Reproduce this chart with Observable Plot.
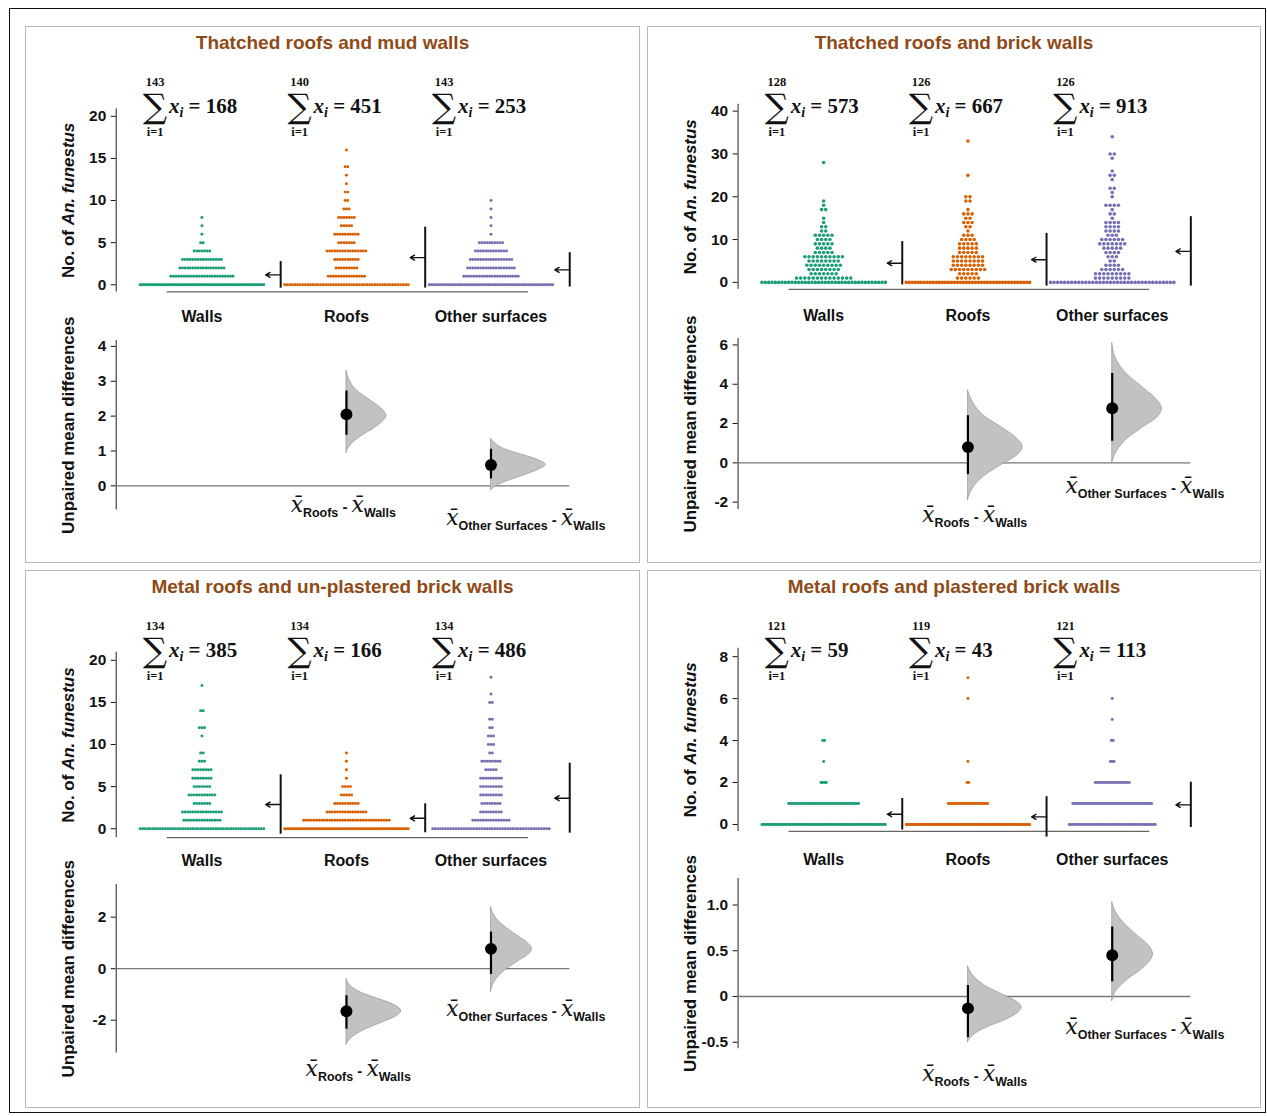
<!DOCTYPE html>
<html><head><meta charset="utf-8">
<script src="https://cdn.jsdelivr.net/npm/d3@7"></script>
<script src="https://cdn.jsdelivr.net/npm/@observablehq/plot@0.6"></script>
<style>
body{margin:0;background:#fff;width:1267px;height:1116px;position:relative;overflow:hidden;font-family:"Liberation Sans",Arial,sans-serif}
#frame{position:absolute;left:9px;top:8px;width:1257px;height:1105px;border:1.5px solid #111;box-sizing:border-box}
.panel{position:absolute;border:1px solid #b8b8b8;box-sizing:border-box;background:#fff}
.title{position:absolute;left:0;right:0;text-align:center;color:#8f4a17;font-weight:bold;font-size:19px;top:6px;line-height:20px}
.panel svg{position:absolute;left:0}
.panel svg g[aria-label^="y-axis"]{font-size:15.5px !important;font-weight:bold !important}
.panel svg g[aria-label^="y-axis"] text{font-size:15.5px !important}
</style></head><body>
<div id="frame"></div>
<script>
// ---------------- DATA ----------------
const groups = ["Walls", "Roofs", "Other surfaces"];
const contrasts = ["Roofs", "Other Surfaces"];
const titles = ["Thatched roofs and mud walls", "Thatched roofs and brick walls",
                "Metal roofs and un-plastered brick walls", "Metal roofs and plastered brick walls"];

// frequency tables: [number of An. funestus, number of collections]
const tlWalls = [[0,72],[1,25],[2,18],[3,16],[4,7],[5,2],[6,1],[7,1],[8,1]];
const tlRoofs = [[0,49],[1,15],[2,9],[3,10],[4,16],[5,7],[6,10],[7,5],[8,7],[9,3],[10,2],[11,2],[12,1],[13,1],[14,2],[16,1]];
const tlOther = [[0,57],[1,22],[2,19],[3,17],[4,13],[5,10],[6,1],[7,1],[8,1],[9,1],[10,1]];
const trWalls = [[0,38],[1,14],[2,7],[3,8],[4,9],[5,8],[6,10],[7,5],[8,4],[9,5],[10,4],[11,5],[12,2],[13,2],[14,1],[15,1],[17,2],[18,1],[19,1],[28,1]];
const trRoofs = [[0,42],[1,6],[2,5],[3,9],[4,8],[5,8],[6,8],[7,5],[8,5],[9,5],[10,4],[11,3],[12,1],[13,2],[14,3],[15,2],[16,3],[17,1],[19,2],[20,2],[25,1],[33,1]];
const trOther = [[0,36],[1,9],[2,9],[3,6],[4,4],[5,2],[6,3],[7,4],[8,5],[9,7],[10,6],[11,3],[12,4],[13,4],[14,4],[15,1],[16,2],[17,1],[18,4],[20,1],[21,1],[22,2],[24,1],[25,2],[26,1],[29,1],[30,2],[34,1]];
const blWalls = [[0,50],[1,15],[2,16],[3,7],[4,11],[5,7],[6,8],[7,8],[8,3],[9,2],[11,1],[12,3],[14,2],[17,1]];
const blRoofs = [[0,61],[1,34],[2,16],[3,10],[4,5],[5,4],[6,1],[7,1],[8,1],[9,1]];
const blOther = [[0,46],[1,15],[2,9],[3,8],[4,9],[5,9],[6,9],[7,5],[8,8],[9,2],[10,3],[11,3],[12,2],[13,2],[15,2],[16,1],[18,1]];
const brWalls = [[0,74],[1,40],[2,4],[3,1],[4,2]];
const brRoofs = [[0,91],[1,23],[2,2],[3,1],[6,1],[7,1]];
const brOther = [[0,49],[1,45],[2,20],[3,3],[4,2],[5,1],[6,1]];

// sum annotations (upper limit n, total)
const tlN = [143,140,143], tlSum = [168,451,253];
const trN = [128,126,126], trSum = [573,667,913];
const blN = [134,134,134], blSum = [385,166,486];
const brN = [121,119,121], brSum = [59,43,113];

// unpaired mean differences vs walls (Roofs, Other surfaces) with 95% CI
const tlDiff = [2.05, 0.60], tlCiLow = [1.45, 0.20], tlCiHigh = [2.72, 1.05];
const trDiff = [0.80, 2.78], trCiLow = [-0.60, 1.10], trCiHigh = [2.40, 4.55];
const blDiff = [-1.65, 0.77], blCiLow = [-2.35, -0.22], blCiHigh = [-1.05, 1.42];
const brDiff = [-0.13, 0.45], brCiLow = [-0.45, 0.16], brCiHigh = [0.12, 0.76];

// bootstrap distributions: [difference, relative density]
const tlRoofsDist = [[0.95,0],[1.15,.07],[1.4,.25],[1.65,.51],[1.85,.67],[2.0,.73],[2.2,.65],[2.45,.44],[2.75,.18],[3.05,.05],[3.3,0]];
const tlOtherDist = [[-0.12,0],[0.0,.11],[0.15,.33],[0.3,.6],[0.45,.85],[0.6,1],[0.75,.85],[0.9,.55],[1.05,.25],[1.2,.09],[1.35,0]];
const trRoofsDist = [[-1.9,0],[-1.3,.09],[-0.7,.29],[-0.1,.62],[0.4,.91],[0.8,1],[1.2,.91],[1.8,.62],[2.4,.29],[3.0,.11],[3.7,0]];
const trOtherDist = [[0.0,0],[0.6,.09],[1.2,.27],[1.8,.56],[2.3,.82],[2.75,.91],[3.2,.82],[3.9,.53],[4.6,.24],[5.3,.07],[6.1,0]];
const blRoofsDist = [[-2.95,0],[-2.7,.09],[-2.4,.31],[-2.1,.64],[-1.85,.91],[-1.65,1],[-1.45,.91],[-1.2,.62],[-0.95,.29],[-0.7,.09],[-0.4,0]];
const blOtherDist = [[-0.9,0],[-0.5,.07],[-0.1,.24],[0.3,.51],[0.55,.69],[0.77,.75],[1.0,.67],[1.4,.4],[1.8,.16],[2.1,.05],[2.4,0]];
const brRoofsDist = [[-0.5,0],[-0.42,.11],[-0.34,.35],[-0.26,.69],[-0.18,.93],[-0.12,1],[-0.05,.89],[0.03,.61],[0.12,.31],[0.22,.11],[0.33,0]];
const brOtherDist = [[-0.05,0],[0.07,.09],[0.18,.28],[0.3,.56],[0.4,.72],[0.46,.76],[0.55,.69],[0.67,.46],[0.8,.22],[0.92,.07],[1.03,0]];

// ---------------- LAYOUT ----------------
const PX = 145, C0 = 176, ML = 90, MR = 20, W = 615;
const xDom = [(ML - C0) / PX, (W - MR - C0) / PX];
const MARK = 79 / PX;
const colors = ["#1b9e77", "#d95f02", "#7570b3"];
const SANS = "'Liberation Sans', Arial, sans-serif";
const SERIF = "'Liberation Serif', 'DejaVu Serif', serif";

const panels = [
  {left:25, top:26, w:615, h:537, title:titles[0], freqs:[tlWalls,tlRoofs,tlOther], n:tlN, sums:tlSum,
   sw:{dom:[-0.85,20.9], ticks:[0,5,10,15,20], mt:48.4, mb:37.8, base:2.6, r:1.5},
   ef:{dom:[-0.69,4.17], ticks:[0,1,2,3,4], mt:10, mb:35, vw:55, fmt:d=>String(d)},
   diff:tlDiff, lo:tlCiLow, hi:tlCiHigh, dist:[tlRoofsDist, tlOtherDist], labY:[-0.6,-0.97], labDx:[-56,-45]},
  {left:647, top:26, w:614, h:537, title:titles[1], freqs:[trWalls,trRoofs,trOther], n:trN, sums:trSum,
   sw:{dom:[-1.63,41.6], ticks:[0,10,20,30,40], mt:44, mb:40, base:4.2, r:1.8},
   ef:{dom:[-2.38,6.33], ticks:[-2,0,2,4,6], mt:8, mb:35, vw:55, fmt:d=>String(d)},
   diff:trDiff, lo:trCiLow, hi:trCiHigh, dist:[trRoofsDist, trOtherDist], labY:[-2.78,-1.27], labDx:[-46,-47]},
  {left:25, top:570, w:615, h:538, title:titles[2], freqs:[blWalls,blRoofs,blOther], n:blN, sums:blSum,
   sw:{dom:[-1.07,20.95], ticks:[0,5,10,15,20], mt:48, mb:36, base:2.6, r:1.5},
   ef:{dom:[-3.27,3.27], ticks:[-2,0,2], mt:10, mb:36, vw:55, fmt:d=>String(d)},
   diff:blDiff, lo:blCiLow, hi:blCiHigh, dist:[blRoofsDist, blOtherDist], labY:[-3.96,-1.65], labDx:[-41,-45]},
  {left:647, top:570, w:614, h:538, title:titles[3], freqs:[brWalls,brRoofs,brOther], n:brN, sums:brSum,
   sw:{dom:[-0.33,8.4], ticks:[0,2,4,6,8], mt:44, mb:42, base:1.8, r:1.5},
   ef:{dom:[-0.57,1.29], ticks:[-0.5,0,0.5,1.0], mt:4, mb:40, vw:54, fmt:d=>d===0?"0":d.toFixed(1)},
   diff:brDiff, lo:brCiLow, hi:brCiHigh, dist:[brRoofsDist, brOtherDist], labY:[-0.87,-0.36], labDx:[-46,-47]}
];

// ---------------- rich text helper ----------------
const rich = new Map(); let richId = 0;
function R(segs){ const k = "@@R" + (richId++); rich.set(k, segs); return k; }
function applyRich(svg){
  svg.querySelectorAll("text").forEach(t => {
    const k = t.textContent;
    if (!rich.has(k)) return;
    t.textContent = "";
    for (const s of rich.get(k)) {
      const ts = document.createElementNS("http://www.w3.org/2000/svg", "tspan");
      ts.textContent = s.t;
      for (const [a, v] of Object.entries(s.a || {})) ts.setAttribute(a, v);
      t.appendChild(ts);
    }
  });
}

function expand(freq){ const a = []; for (const [v, c] of freq) for (let i = 0; i < c; i++) a.push(v); return a; }
function swarm(freq, g, base, corral){
  const out = [];
  for (const [v, c] of freq) {
    const s = c > 1 ? Math.min(base, corral / (c - 1)) : 0;
    for (let i = 0; i < c; i++) out.push({x: g + ((i - (c - 1) / 2) * s) / PX, y: v});
  }
  return out;
}
const baseStyle = {fontFamily: SANS, fontSize: "15.5px", fontWeight: "bold", color: "#111", background: "transparent", overflow: "visible"};

function swarmPlot(p){
  const H = 270, top = p.sw.mt, bottomY = H - p.sw.mb;
  const stats = p.freqs.map((f, g) => { const a = expand(f); const m = d3.mean(a), s = d3.deviation(a); return {g, m, lo: m - s, hi: m + s, x: g + MARK}; });
  const ann = groups.map((name, g) => ({g, name, n: p.n[g], sum: p.sums[g]}));
  const xText = d => R([
    {t: "x", a: {"font-style": "italic", "font-size": "21"}},
    {t: "i", a: {"font-style": "italic", "font-size": "14", dy: "4"}},
    {t: " = " + d.sum, a: {"font-size": "21", dy: "-4"}}
  ]);
  return Plot.plot({
    width: W, height: H, marginLeft: ML, marginRight: MR, marginTop: p.sw.mt, marginBottom: p.sw.mb,
    style: baseStyle,
    x: {domain: xDom, axis: null},
    y: {domain: p.sw.dom, ticks: p.sw.ticks, tickSize: 5, tickPadding: 5, label: null, tickFormat: d => String(d)},
    marks: [
      Plot.ruleX([xDom[0]], {stroke: "#333", strokeWidth: 1.1}),
      Plot.ruleY([p.sw.dom[0]], {x1: () => -0.24, x2: () => 2.26, stroke: "#666", strokeWidth: 1.3}),
      ...p.freqs.map((f, g) => Plot.dot(swarm(f, g, p.sw.base, 124), {x: "x", y: "y", r: p.sw.r, fill: colors[g], stroke: "none"})),
      Plot.ruleX(stats, {x: "x", y1: "lo", y2: "hi", stroke: "#111", strokeWidth: 2}),
      Plot.arrow(stats, {x1: "x", x2: d => d.x - 15 / PX, y1: "m", y2: "m", stroke: "#111", strokeWidth: 1.4, headLength: 8}),
      Plot.text(ann, {x: "g", text: d => String(d.n), frameAnchor: "top", dx: -47, dy: 17 - top, fontFamily: SERIF, fontSize: 12.5}),
      Plot.text(ann, {x: "g", text: () => "\u2211", frameAnchor: "top", dx: -47, dy: 34 - top, fontFamily: "DejaVu Serif", fontWeight: "normal", fontSize: 34}),
      Plot.text(ann, {x: "g", text: () => "i=1", frameAnchor: "top", dx: -47, dy: 67 - top, fontFamily: SERIF, fontSize: 12.5}),
      Plot.text(ann, {x: "g", text: xText, frameAnchor: "top", textAnchor: "start", dx: -33, dy: 38 - top, fontFamily: SERIF, fontSize: 21}),
      Plot.text(ann, {x: "g", text: "name", frameAnchor: "bottom", dy: 262 - bottomY, fontSize: 16}),
      Plot.text([0], {frameAnchor: "left", textAnchor: "middle", dx: -48, rotate: -90, fontSize: 17,
        text: () => R([{t: "No. of "}, {t: "An. funestus", a: {"font-style": "italic"}}])})
    ]
  });
}

function effectPlot(p){
  const H = 215;
  const cs = [0, 1].map(i => ({g: i + 1, d: p.diff[i], lo: p.lo[i], hi: p.hi[i]}));
  const viol = p.dist.map((dist, i) => dist.map(([v, r]) => ({y: v, x1: i + 1, x2: i + 1 + r * p.ef.vw / PX})));
  const xb = {"font-family": "'DejaVu Serif', serif", "font-style": "italic", "font-weight": "normal", "font-size": "22"};
  const lab = name => R([
    {t: "x\u0304", a: xb},
    {t: name, a: {"font-size": "12.5", dy: "5"}},
    {t: " - ", a: {"font-size": "15", dy: "-5"}},
    {t: "x\u0304", a: xb},
    {t: "Walls", a: {"font-size": "12.5", dy: "5"}}
  ]);
  return Plot.plot({
    width: W, height: H, marginLeft: ML, marginRight: MR, marginTop: p.ef.mt, marginBottom: p.ef.mb,
    style: baseStyle,
    x: {domain: xDom, axis: null},
    y: {domain: p.ef.dom, ticks: p.ef.ticks, tickSize: 5, tickPadding: 5, label: null, tickFormat: p.ef.fmt},
    marks: [
      Plot.ruleX([xDom[0]], {stroke: "#333", strokeWidth: 1.1}),
      Plot.ruleY([0], {x1: () => xDom[0], x2: () => 2.545, stroke: "#777", strokeWidth: 1.3}),
      ...viol.map(v => Plot.areaX(v, {y: "y", x1: "x1", x2: "x2", curve: "monotone-y", fill: "#c2c2c2", stroke: "#8a8a8a", strokeWidth: 0.6})),
      Plot.ruleX(cs, {x: "g", y1: "lo", y2: "hi", stroke: "#000", strokeWidth: 2.2}),
      Plot.dot(cs, {x: "g", y: "d", r: 6, fill: "#000", stroke: "none"}),
      ...cs.map((c, i) => Plot.text([c], {x: "g", y: () => p.labY[i], dx: p.labDx[i], textAnchor: "start", text: () => lab(contrasts[i])})),
      Plot.text([0], {frameAnchor: "left", textAnchor: "middle", dx: -48, rotate: -90, fontSize: 17, text: () => "Unpaired mean differences"})
    ]
  });
}

for (const p of panels) {
  const div = document.createElement("div");
  div.className = "panel";
  Object.assign(div.style, {left: p.left + "px", top: p.top + "px", width: p.w + "px", height: p.h + "px"});
  const t = document.createElement("div"); t.className = "title"; t.textContent = p.title; div.appendChild(t);
  const s1 = swarmPlot(p); applyRich(s1); s1.style.position = "absolute"; s1.style.top = "33px"; s1.style.left = "0px"; div.appendChild(s1);
  const s2 = effectPlot(p); applyRich(s2); s2.style.position = "absolute"; s2.style.top = "303px"; s2.style.left = "0px"; div.appendChild(s2);
  document.body.appendChild(div);
}
</script></body></html>
